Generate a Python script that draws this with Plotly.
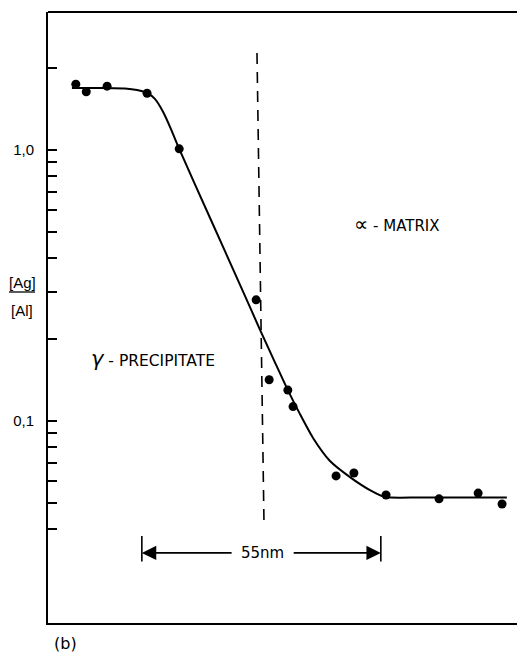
import numpy as np
import plotly.graph_objects as go

# ---- data ----
pos_nm = [6.4, 8.8, 13.6, 22.8, 30.2, 47.9, 50.9, 55.2, 56.4, 66.3, 70.4, 77.8, 90.0, 99.0, 104.5]
ratio = [1.75, 1.64, 1.72, 1.62, 1.01, 0.280, 0.142, 0.130, 0.113, 0.0627, 0.0643, 0.0533, 0.0516, 0.0542, 0.0494]

fit_nm = [5.5, 12.0, 17.7, 20.5, 22.8, 24.6, 26.5, 28.3, 30.2, 37.3, 44.2, 48.8, 52.2,
          55.2, 58.0, 61.0, 64.9, 69.5, 74.1, 77.6, 85.6, 105.6]
fit_ratio = [1.694, 1.694, 1.687, 1.665, 1.623, 1.543, 1.381, 1.195, 1.009, 0.561, 0.318, 0.217, 0.165,
             0.130, 0.106, 0.0866, 0.0712, 0.0621, 0.0556, 0.0524, 0.0522, 0.0522]

boundary_nm = [48.1, 49.7]
boundary_ratio = [2.28, 0.0431]

width_start_nm = 21.6
width_end_nm = 76.6          # 55 nm span
width_label = "55nm"
width_gap_nm = [42.6, 56.2]  # gap in the dimension line left for the label
width_ratio = 0.0326
width_bar_ratio = [0.0376, 0.0303]

y_tickvals = [0.04, 0.05, 0.06, 0.07, 0.08, 0.09, 0.1, 0.2, 0.3, 0.4, 0.5, 0.6, 0.7, 0.8, 0.9, 1.0, 2.0]
y_ticktext = ["" if v not in (0.1, 1.0) else ("0,1" if v == 0.1 else "1,0") for v in y_tickvals]

FONT = "DejaVu Sans"
FONT_NARROW = "Liberation Sans"
# page body has an 8px margin: figure is placed at (8, 8) in the window
OFF = 8
W, H = 525 - OFF, 655 - OFF
# plot box in window pixels
PL, PT, PR, PB = 48, 12, 523, 623
ML, MT = PL - OFF, PT - OFF
MR, MB = W - (PR - OFF), H - (PB - OFF)
PW, PH = PR - PL, PB - PT


def px(xp):
    return (xp - PL) / PW


def py(yp):
    return (PB - yp) / PH


fig = go.Figure()

# fitted curve
fig.add_trace(go.Scatter(x=fit_nm, y=fit_ratio, mode="lines",
                         line=dict(color="black", width=2, shape="spline", smoothing=0.6),
                         hoverinfo="skip"))
# measured points
fig.add_trace(go.Scatter(x=pos_nm, y=ratio, mode="markers",
                         marker=dict(color="black", size=9)))
# interface (dashed)
fig.add_trace(go.Scatter(x=boundary_nm, y=boundary_ratio, mode="lines",
                         line=dict(color="black", width=1.6, dash="11px,8px")))
# end bars of dimension arrow
for xv in (width_start_nm, width_end_nm):
    fig.add_trace(go.Scatter(x=[xv, xv], y=width_bar_ratio, mode="lines",
                             line=dict(color="black", width=1.6)))

ly = float(np.log10(width_ratio))


def label(xp, yp, text, size=15, family=FONT):
    return dict(x=px(xp), y=py(yp), xref="paper", yref="paper", text=text,
                xanchor="center", yanchor="middle", showarrow=False,
                font=dict(size=size, family=family))


annotations = [
    dict(x=width_start_nm, y=ly, ax=width_gap_nm[0], ay=ly, xref="x", yref="y", axref="x", ayref="y",
         text="", showarrow=True, arrowhead=2, arrowsize=1.8, arrowwidth=1.6, arrowcolor="black"),
    dict(x=width_end_nm, y=ly, ax=width_gap_nm[1], ay=ly, xref="x", yref="y", axref="x", ayref="y",
         text="", showarrow=True, arrowhead=2, arrowsize=1.8, arrowwidth=1.6, arrowcolor="black"),
    dict(x=(width_gap_nm[0] + width_gap_nm[1]) / 2, y=ly, xref="x", yref="y", text=width_label,
         xanchor="center", yanchor="middle", showarrow=False, font=dict(size=15)),
    label(397, 224, "<span style='font-size:20px'>∝</span> - MATRIX"),
    label(153, 359, "<span style='font-size:21px'><i>γ</i></span> - PRECIPITATE", 15.5),
    label(65, 643, "(b)", 16),
    label(22, 282, "[Ag]", 15, FONT_NARROW),
    label(22, 310, "[Al]", 15, FONT_NARROW),
]

shapes = [
    # fraction bar of axis label
    dict(type="line", xref="paper", yref="paper", x0=px(9), x1=px(35), y0=py(292), y1=py(292),
         line=dict(color="black", width=1.3)),
    # top border
    dict(type="line", xref="paper", yref="paper", x0=0, x1=1, y0=1, y1=1,
         line=dict(color="black", width=2)),
    # partial right border
    dict(type="line", xref="paper", yref="paper", x0=1, x1=1, y0=py(127), y1=1,
         line=dict(color="black", width=1.6)),
    dict(type="line", xref="paper", yref="paper", x0=1, x1=1, y0=py(195), y1=py(127),
         line=dict(color="#b0b0b0", width=1.2)),
]

fig.update_layout(
    width=W, height=H, autosize=False,
    margin=dict(l=ML, r=MR, t=MT, b=MB, pad=0, autoexpand=False),
    paper_bgcolor="white", plot_bgcolor="white",
    showlegend=False,
    font=dict(family=FONT, color="black", size=15),
    annotations=annotations, shapes=shapes,
    xaxis=dict(range=[0, PW / 4.345], showgrid=False, zeroline=False, showticklabels=False,
               ticks="", showline=True, linecolor="black", linewidth=2, automargin=False),
    yaxis=dict(type="log", range=[-1.7454, 0.5092], showgrid=False, zeroline=False,
               tickmode="array", tickvals=y_tickvals, ticktext=y_ticktext,
               ticks="inside", ticklen=9, tickwidth=1.5, tickcolor="black",
               ticklabelstandoff=9, automargin=False,
               showline=True, linecolor="black", linewidth=2,
               tickfont=dict(size=15, family=FONT_NARROW)),
)

fig.write_html("out.html")
